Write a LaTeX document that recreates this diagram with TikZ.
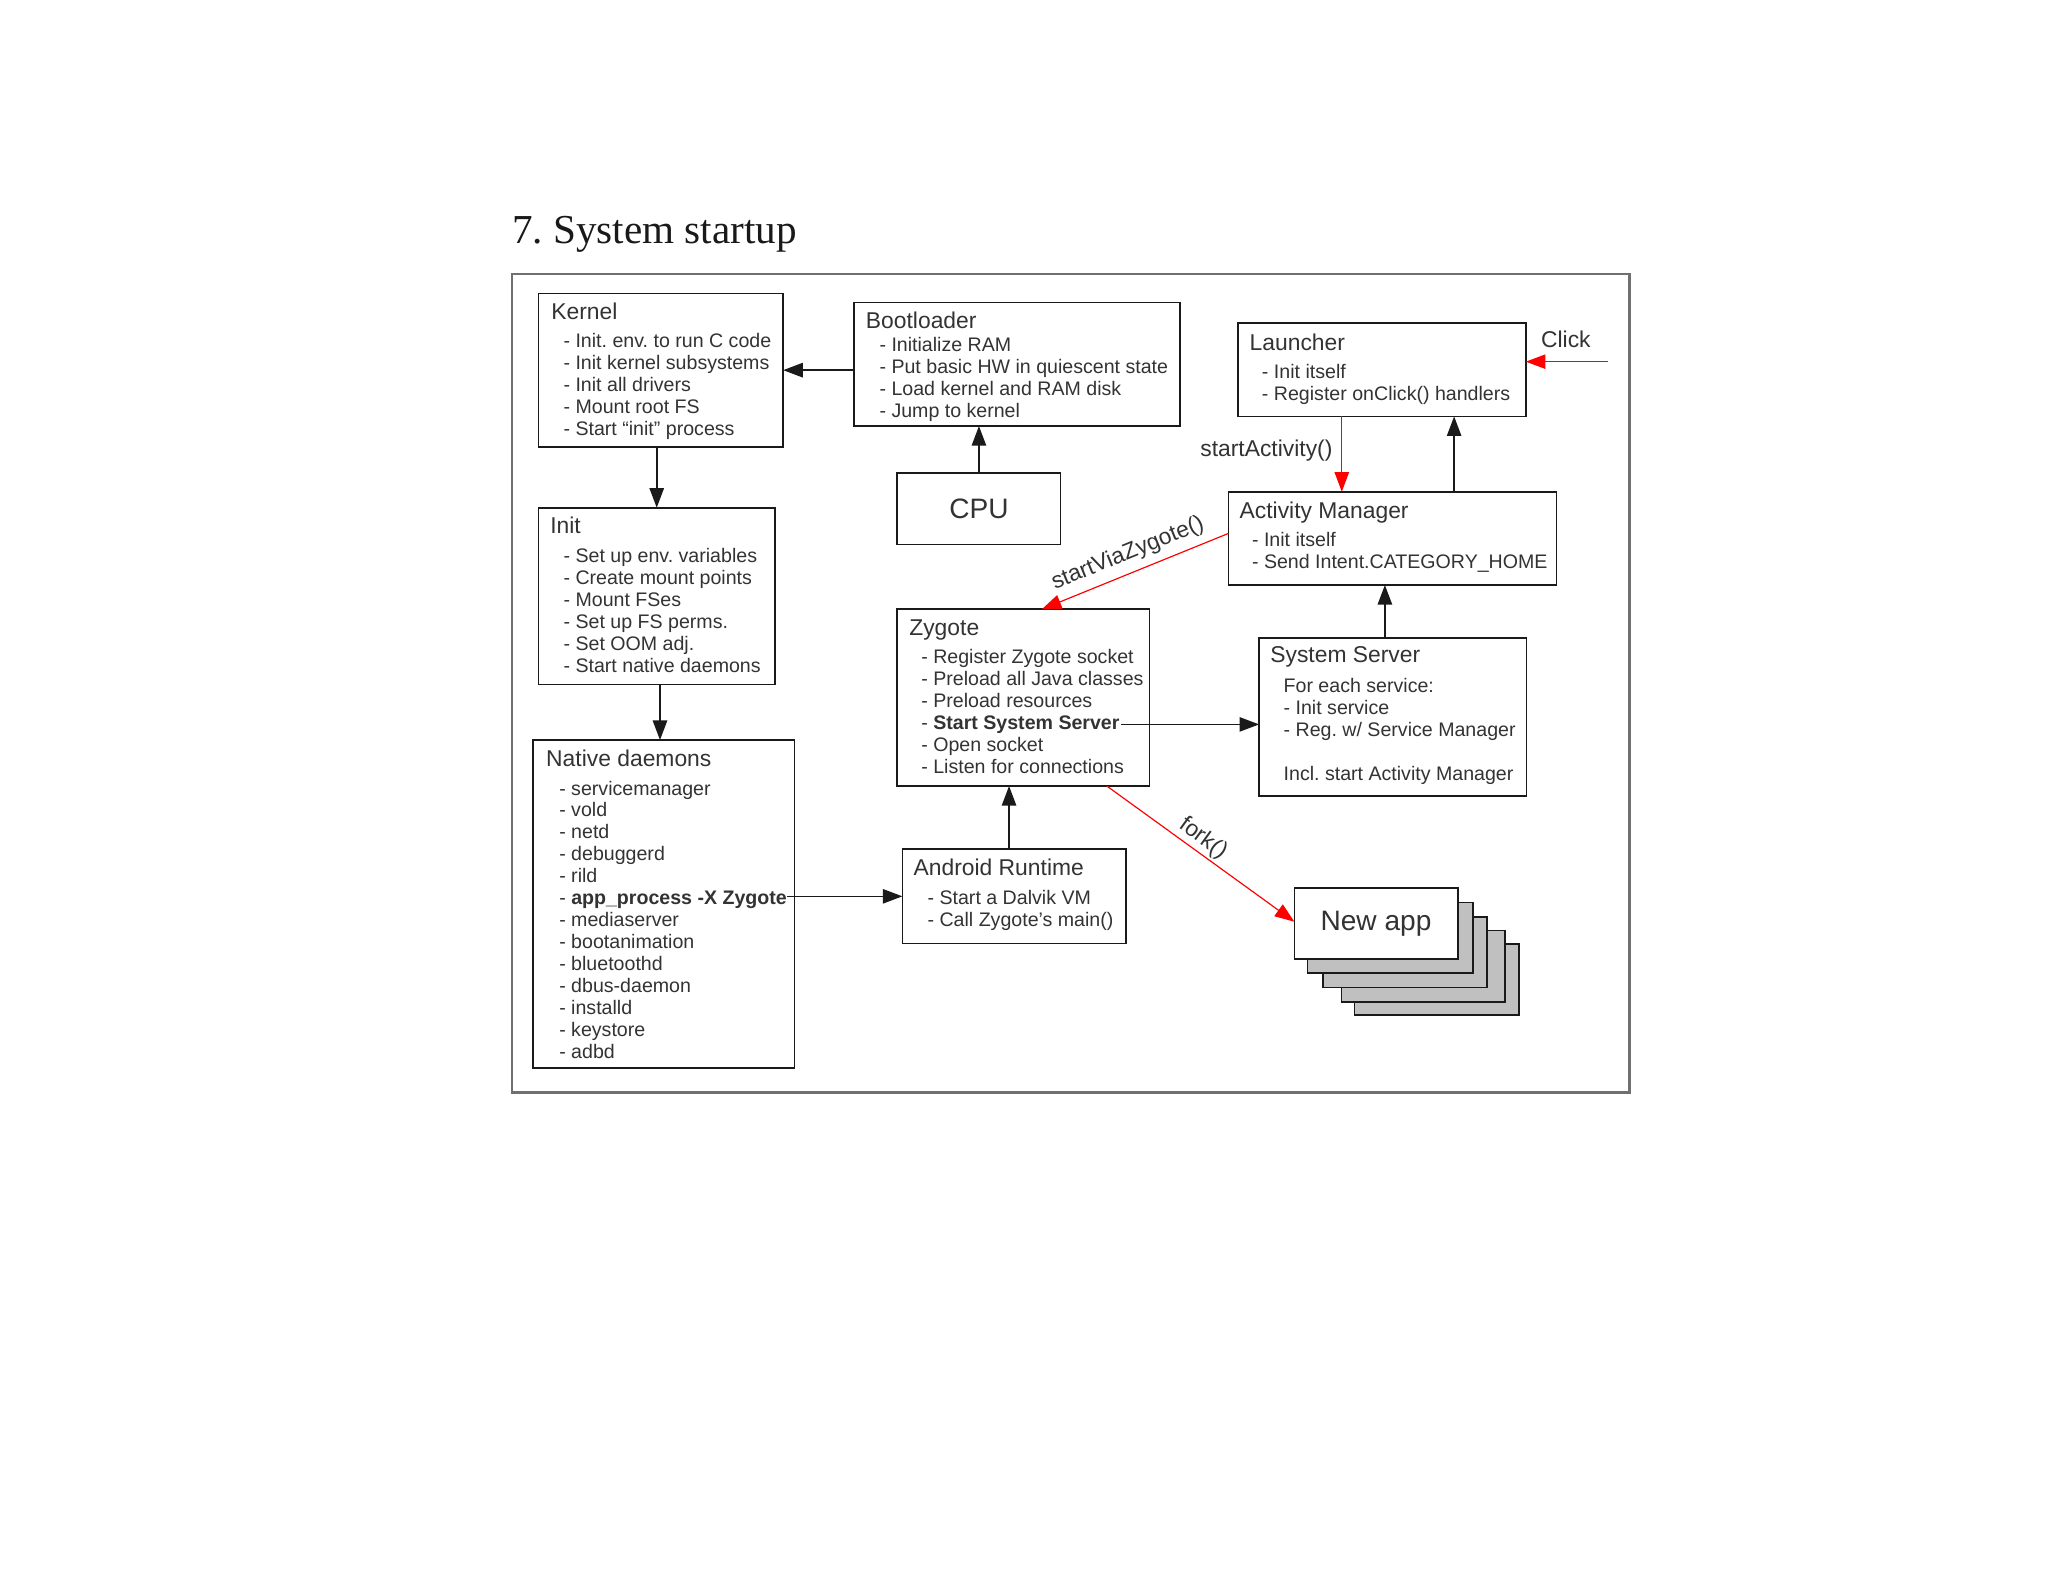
\documentclass[tikz,border=0pt]{standalone}
\usepackage{fontspec}
\setmainfont{Liberation Sans}
\newfontfamily\titlefont{Liberation Serif}
\usetikzlibrary{arrows.meta}
\definecolor{txt}{HTML}{333333}
\definecolor{ln}{HTML}{1A1A1A}
\definecolor{frm}{HTML}{707070}
\definecolor{stackgray}{HTML}{C0C0C0}
\newcommand\mylist[4]{\foreach \t [count=\i] in {#4}{\node[itm] (#1\i) at (#2,{#3+(\i-1)*16.8}) {\t};}}
\frenchspacing
\begin{document}
\frenchspacing
\begin{tikzpicture}[x=1pt,y=-1pt,
  box/.style={draw=ln, line width=1.3pt, anchor=north west, inner sep=0pt, outer sep=0pt, fill=white},
  itm/.style={anchor=base west, inner sep=0pt, text=txt, font=\fontsize{15}{17}\selectfont},
  ttl/.style={anchor=base west, inner sep=0pt, text=txt, font=\fontsize{17.5}{20}\selectfont},
  arr/.style={draw=ln, line width=1.2pt, -{Triangle[length=15pt,width=11pt]}},
  rarr/.style={draw=red, line width=0.9pt, -{Triangle[length=15pt,width=11pt]}},
  lbl/.style={text=txt, font=\fontsize{17.5}{20}\selectfont, inner sep=0pt, outer sep=0pt}]
\fill[white] (0,0) rectangle (1568,1211.2);
\useasboundingbox (0,0) rectangle (1568,1211.2);

% title and frame
\node[anchor=base west, inner sep=0pt, text=black!90, font=\titlefont\fontsize{31.5}{36}\selectfont] (title) at (392,186.3) {7. System startup};
\draw[frm, line width=2pt] (392,209.8) rectangle (1247.5,836.6);

% boxes
\node[box, minimum width=187.4, minimum height=117.6] (kernel) at (412.2,224.6) {};
\node[box, minimum width=249.4, minimum height=94.7] (boot) at (654.1,231.5) {};
\node[box, minimum width=125, minimum height=54.9, text=txt, font=\fontsize{21.5}{24}\selectfont] (cpu) at (687,361.9) {CPU};
\node[box, minimum width=181.2, minimum height=135.3] (init) at (412.2,388.7) {};
\node[box, minimum width=199.9, minimum height=250.9] (native) at (408.3,566.6) {};
\node[box, minimum width=171.3, minimum height=72.1] (ar) at (690.9,650.2) {};
\node[box, minimum width=193.4, minimum height=135.3] (zyg) at (686.6,466.5) {};
\node[box, minimum width=204.6, minimum height=121.2] (ss) at (964,488.3) {};
\node[box, minimum width=251.1, minimum height=71.4] (am) at (940.5,376.5) {};
\node[box, minimum width=220.6, minimum height=71.7] (launch) at (947.6,247.1) {};

% new app stack
\node[box, fill=stackgray, minimum width=126, minimum height=54] (na5) at (1037,723) {};
\node[box, fill=stackgray, minimum width=125.5, minimum height=54.5] (na4) at (1027,712.5) {};
\node[box, fill=stackgray, minimum width=125.5, minimum height=54] (na3) at (1013,702) {};
\node[box, fill=stackgray, minimum width=127, minimum height=54] (na2) at (1001,691) {};
\node[box, minimum width=125, minimum height=54, text=txt, font=\fontsize{21.5}{24}\selectfont] (na1) at (991,680) {New app};

% texts
\node[ttl] (kernelT) at (421.9,245) {Kernel};
\mylist{k}{431.3}{266.2}{{- Init. env. to run C code},{- Init kernel subsystems},{- Init all drivers},{- Mount root FS},{- Start “init” process}}
\node[ttl] (bootT) at (662.8,251.4) {Bootloader};
\mylist{b}{673.2}{269.3}{{- Initialize RAM},{- Put basic HW in quiescent state},{- Load kernel and RAM disk},{- Jump to kernel}}
\node[ttl] (initT) at (421.1,408.2) {Init};
\mylist{i}{431.3}{430.8}{{- Set up env. variables},{- Create mount points},{- Mount FSes},{- Set up FS perms.},{- Set OOM adj.},{- Start native daemons}}
\node[ttl] (nativeT) at (418,587) {Native daemons};
\mylist{n}{428}{608.7}{{- servicemanager},{- vold},{- netd},{- debuggerd},{- rild},{- \textbf{app\_process -X Zygote}},{- mediaserver},{- bootanimation},{- bluetoothd},{- dbus-daemon},{- installd},{- keystore},{- adbd}}
\node[ttl] (arT) at (699.3,670) {Android Runtime};
\mylist{a}{710}{692.2}{{- Start a Dalvik VM},{- Call Zygote's main()}}
\node[ttl] (zygT) at (696,486.2) {Zygote};
\mylist{z}{705.2}{507.9}{{- Register Zygote socket},{- Preload all Java classes},{- Preload resources},{- \textbf{Start System Server}},{- Open socket},{- Listen for connections}}
\node[ttl] (ssT) at (972.4,507.4) {System Server};
\mylist{s}{982.6}{530.1}{{For each service:},{- Init service},{- Reg. w/ Service Manager}}
\node[itm] (s5) at (982.6,597.2) {Incl. start Activity Manager};
\node[ttl] (amT) at (948.9,396.9) {Activity Manager};
\mylist{m}{958.4}{418.1}{{- Init itself},{- Send Intent.CATEGORY\_HOME}}
\node[ttl] (launchT) at (956.6,268) {Launcher};
\mylist{l}{966}{289.7}{{- Init itself},{- Register onClick() handlers}}
\node[ttl] (click) at (1179.7,266) {Click};
\node[ttl] (startact) at (918.8,349.7) {startActivity()};

% black connectors
\draw[arr] (boot.west |- kernel.east) -- (kernel.east);
\draw[arr] (kernel.south -| init.north) -- (init.north);
\draw[arr] (cpu.north) -- (cpu.north |- boot.south);
\draw[arr] ([xshift=2.5pt]init.south) -- ([xshift=2.5pt]init.south |- native.north);
\draw[arr] (n6.east |- ar.west) -- (ar.west);
\draw[arr] ([xshift=-4pt]ar.north) -- ([xshift=-4pt]ar.north |- zyg.south);
\draw[arr] ([xshift=1pt]z4.east) -- (z4.east -| ss.west);
\draw[arr] ([xshift=-6pt]ss.north) -- ([xshift=-6pt]ss.north |- am.south);
\draw[arr] ([xshift=55.4pt]launch.south |- am.north) -- ([xshift=55.4pt]launch.south);

% red connectors
\draw[rarr] ([xshift=-30.6pt]launch.south) -- ([xshift=-30.6pt]launch.south |- am.north);
\coordinate (clickfrom) at (1231.4,276.9);
\draw[rarr] (clickfrom) -- (clickfrom -| launch.east);
\draw[rarr] ([yshift=3.8pt]am.west) -- node[lbl, sloped, above, inner ysep=6.5pt] (svz) {startViaZygote()} ([xshift=14.3pt]zyg.north);
\draw[rarr] ([xshift=64.1pt]zyg.south) -- node[lbl, sloped, above, inner ysep=2.5pt, pos=0.47] (fork) {fork()} ([yshift=1.3pt]na1.west);
\end{tikzpicture}
\end{document}
